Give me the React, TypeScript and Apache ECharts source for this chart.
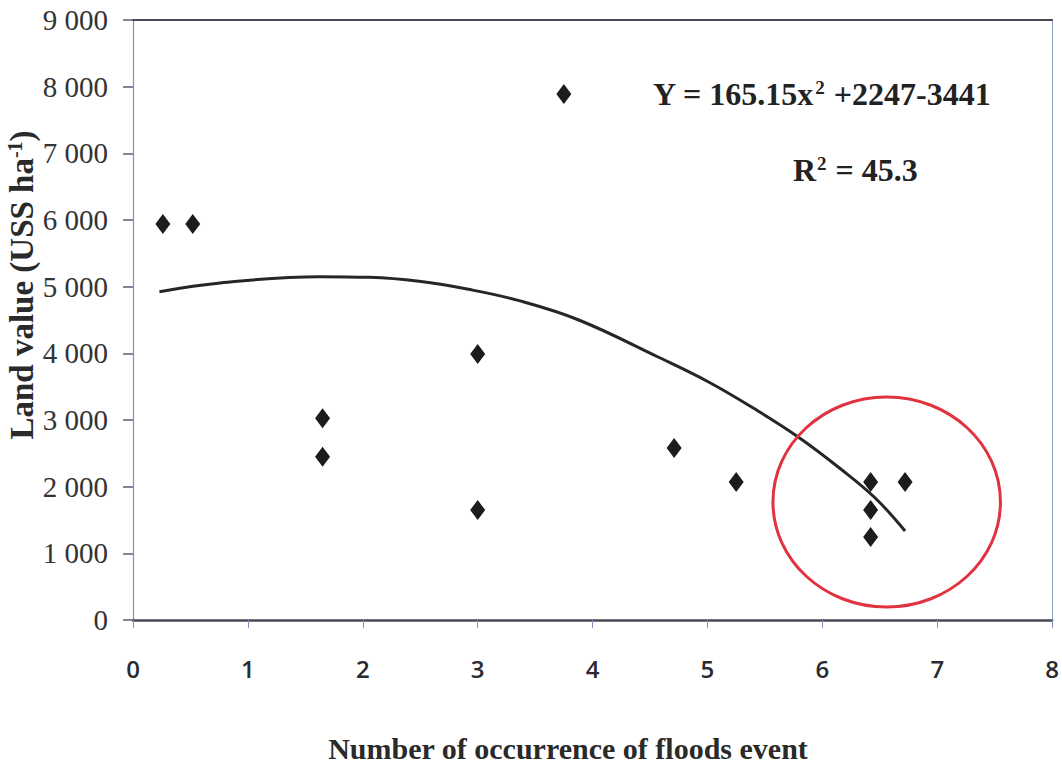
import React, { useEffect, useRef } from "react";
import * as echarts from "echarts";

// Scatter observations: number of flood events vs land value (US$ ha-1)
const floodEvents = [0.26, 0.52, 1.65, 1.65, 3.0, 3.0, 3.75, 4.71, 5.25, 6.42, 6.42, 6.42, 6.72];
const landValue = [5940, 5940, 3025, 2450, 3990, 1650, 7890, 2580, 2070, 2070, 1650, 1245, 2070];

// Fitted polynomial trend line
const trendX = [0.23, 0.76, 1.62, 2.06, 2.49, 2.92, 3.36, 3.88, 4.57, 5.01, 5.44, 5.79, 6.16, 6.46, 6.72];
const trendY = [4925, 5055, 5150, 5140, 5080, 4960, 4790, 4500, 3945, 3570, 3135, 2745, 2265, 1830, 1335];

// Axis tick labels
const xTickLabels = ["0", "1", "2", "3", "4", "5", "6", "7", "8"];
const yTickLabels = ["0", "1 000", "2 000", "3 000", "4 000", "5 000", "6 000", "7 000", "8 000", "9 000"];

// Highlight ellipse around the high-flood cluster (data coordinates)
const highlightCenter = [6.56, 1770];
const highlightRadius = [0.99, 1575];

const equationText = ["Y = 165.15x", "2", " +2247-3441"];
const r2Text = ["R", "2", " = 45.3"];

export default function App() {
  const ref = useRef<HTMLDivElement>(null);
  useEffect(() => {
    if (!ref.current) return;
    const chart = echarts.init(ref.current, null, { renderer: "svg" });
    const serif = "Liberation Serif";
    const option: any = {
      animation: false,
      backgroundColor: "#ffffff",
      textStyle: { fontFamily: serif },
      grid: { left: 133, right: 7, top: 20, bottom: 146, containLabel: false },
      xAxis: [
        {
          type: "value",
          min: 0,
          max: 8,
          interval: 1,
          position: "bottom",
          axisLine: { show: true, onZero: false, lineStyle: { color: "#4a4a55", width: 2.5 } },
          axisTick: { show: true, inside: false, length: 8, lineStyle: { color: "#7f8fb5", width: 1 } },
          splitLine: { show: false },
          axisLabel: {
            margin: 36,
            fontFamily: "Open Sans",
            fontWeight: 600,
            fontSize: 24,
            color: "#2a2a30",
            formatter: (v: number) => xTickLabels[Math.round(v)] ?? "",
          },
        },
        {
          type: "value",
          min: 0,
          max: 8,
          position: "top",
          axisLine: { show: true, onZero: false, lineStyle: { color: "#4a4a55", width: 2 } },
          axisTick: { show: false },
          axisLabel: { show: false },
          splitLine: { show: false },
        },
      ],
      yAxis: [
        {
          type: "value",
          min: 0,
          max: 9000,
          interval: 1000,
          position: "left",
          axisLine: { show: true, onZero: false, lineStyle: { color: "#7f8fb5", width: 1.2 } },
          axisTick: { show: true, inside: false, length: 10, lineStyle: { color: "#55607a", width: 1.5 } },
          splitLine: { show: false },
          axisLabel: {
            margin: 25,
            fontFamily: serif,
            fontSize: 29,
            color: "#333333",
            formatter: (v: number) => `{t|${yTickLabels[Math.round(v / 1000)] ?? ""}}`,
            rich: {
              t: { fontFamily: serif, fontSize: 29, color: "#333333" },
            },
          },
        },
        {
          type: "value",
          min: 0,
          max: 9000,
          position: "right",
          axisLine: { show: true, onZero: false, lineStyle: { color: "#8fa0c8", width: 1 } },
          axisTick: { show: false },
          axisLabel: { show: false },
          splitLine: { show: false },
        },
      ],
      series: [
        {
          type: "line",
          data: trendX.map((x, i) => [x, trendY[i]]),
          smooth: 0.4,
          showSymbol: false,
          symbol: "none",
          lineStyle: { color: "#262626", width: 3 },
          z: 2,
        },
        {
          type: "scatter",
          data: floodEvents.map((x, i) => [x, landValue[i]]),
          symbol: "diamond",
          symbolSize: [15, 20],
          itemStyle: { color: "#1c1c1c", opacity: 1 },
          z: 3,
        },
      ],
    };
    chart.setOption(option);

    const c = chart.convertToPixel({ xAxisIndex: 0, yAxisIndex: 0 }, highlightCenter) as number[];
    const e = chart.convertToPixel({ xAxisIndex: 0, yAxisIndex: 0 }, [
      highlightCenter[0] + highlightRadius[0],
      highlightCenter[1] + highlightRadius[1],
    ]) as number[];

    chart.setOption({
      graphic: [
        {
          type: "ellipse",
          shape: { cx: c[0], cy: c[1], rx: Math.abs(e[0] - c[0]), ry: Math.abs(c[1] - e[1]) },
          style: { fill: "none", stroke: "#e0323f", lineWidth: 3 },
          z: 10,
        },
        {
          type: "text",
          left: 653,
          top: 78,
          style: {
            text: `{m|${equationText[0]}}{s|${equationText[1]}}{m|${equationText[2]}}`,
            rich: {
              m: { fontFamily: serif, fontWeight: "bold", fontSize: 32, fill: "#222" },
              s: { fontFamily: serif, fontWeight: "bold", fontSize: 19, fill: "#222", verticalAlign: "top", padding: [0, 1, 10, 1] },
            },
          },
          z: 10,
        },
        {
          type: "text",
          left: 793,
          top: 154,
          style: {
            text: `{m|${r2Text[0]}}{s|${r2Text[1]}}{m|${r2Text[2]}}`,
            rich: {
              m: { fontFamily: serif, fontWeight: "bold", fontSize: 32, fill: "#222" },
              s: { fontFamily: serif, fontWeight: "bold", fontSize: 19, fill: "#222", verticalAlign: "top", padding: [0, 1, 10, 1] },
            },
          },
          z: 10,
        },
        {
          type: "text",
          x: 568,
          y: 748,
          style: {
            text: "Number of occurrence of floods event",
            fontFamily: serif,
            fontWeight: "bold",
            fontSize: 30,
            fill: "#2a2a2a",
            align: "center",
            verticalAlign: "middle",
          },
          z: 10,
        },
        {
          type: "text",
          x: 22,
          y: 285,
          rotation: Math.PI / 2,
          style: {
            text: "Land value (USS ha{s|-1})",
            fontFamily: serif,
            fontWeight: "bold",
            fontSize: 33,
            fill: "#2a2a2a",
            align: "center",
            verticalAlign: "middle",
            rich: {
              s: { fontFamily: serif, fontWeight: "bold", fontSize: 20, fill: "#2a2a2a", verticalAlign: "top", padding: [0, 0, 14, 0] },
            },
          },
          z: 10,
        },
      ],
    });

    return () => chart.dispose();
  }, []);
  return (
    <div
      ref={ref}
      style={{ position: "fixed", left: 0, top: 0, width: 1062, height: 766, background: "#fff" }}
    />
  );
}
